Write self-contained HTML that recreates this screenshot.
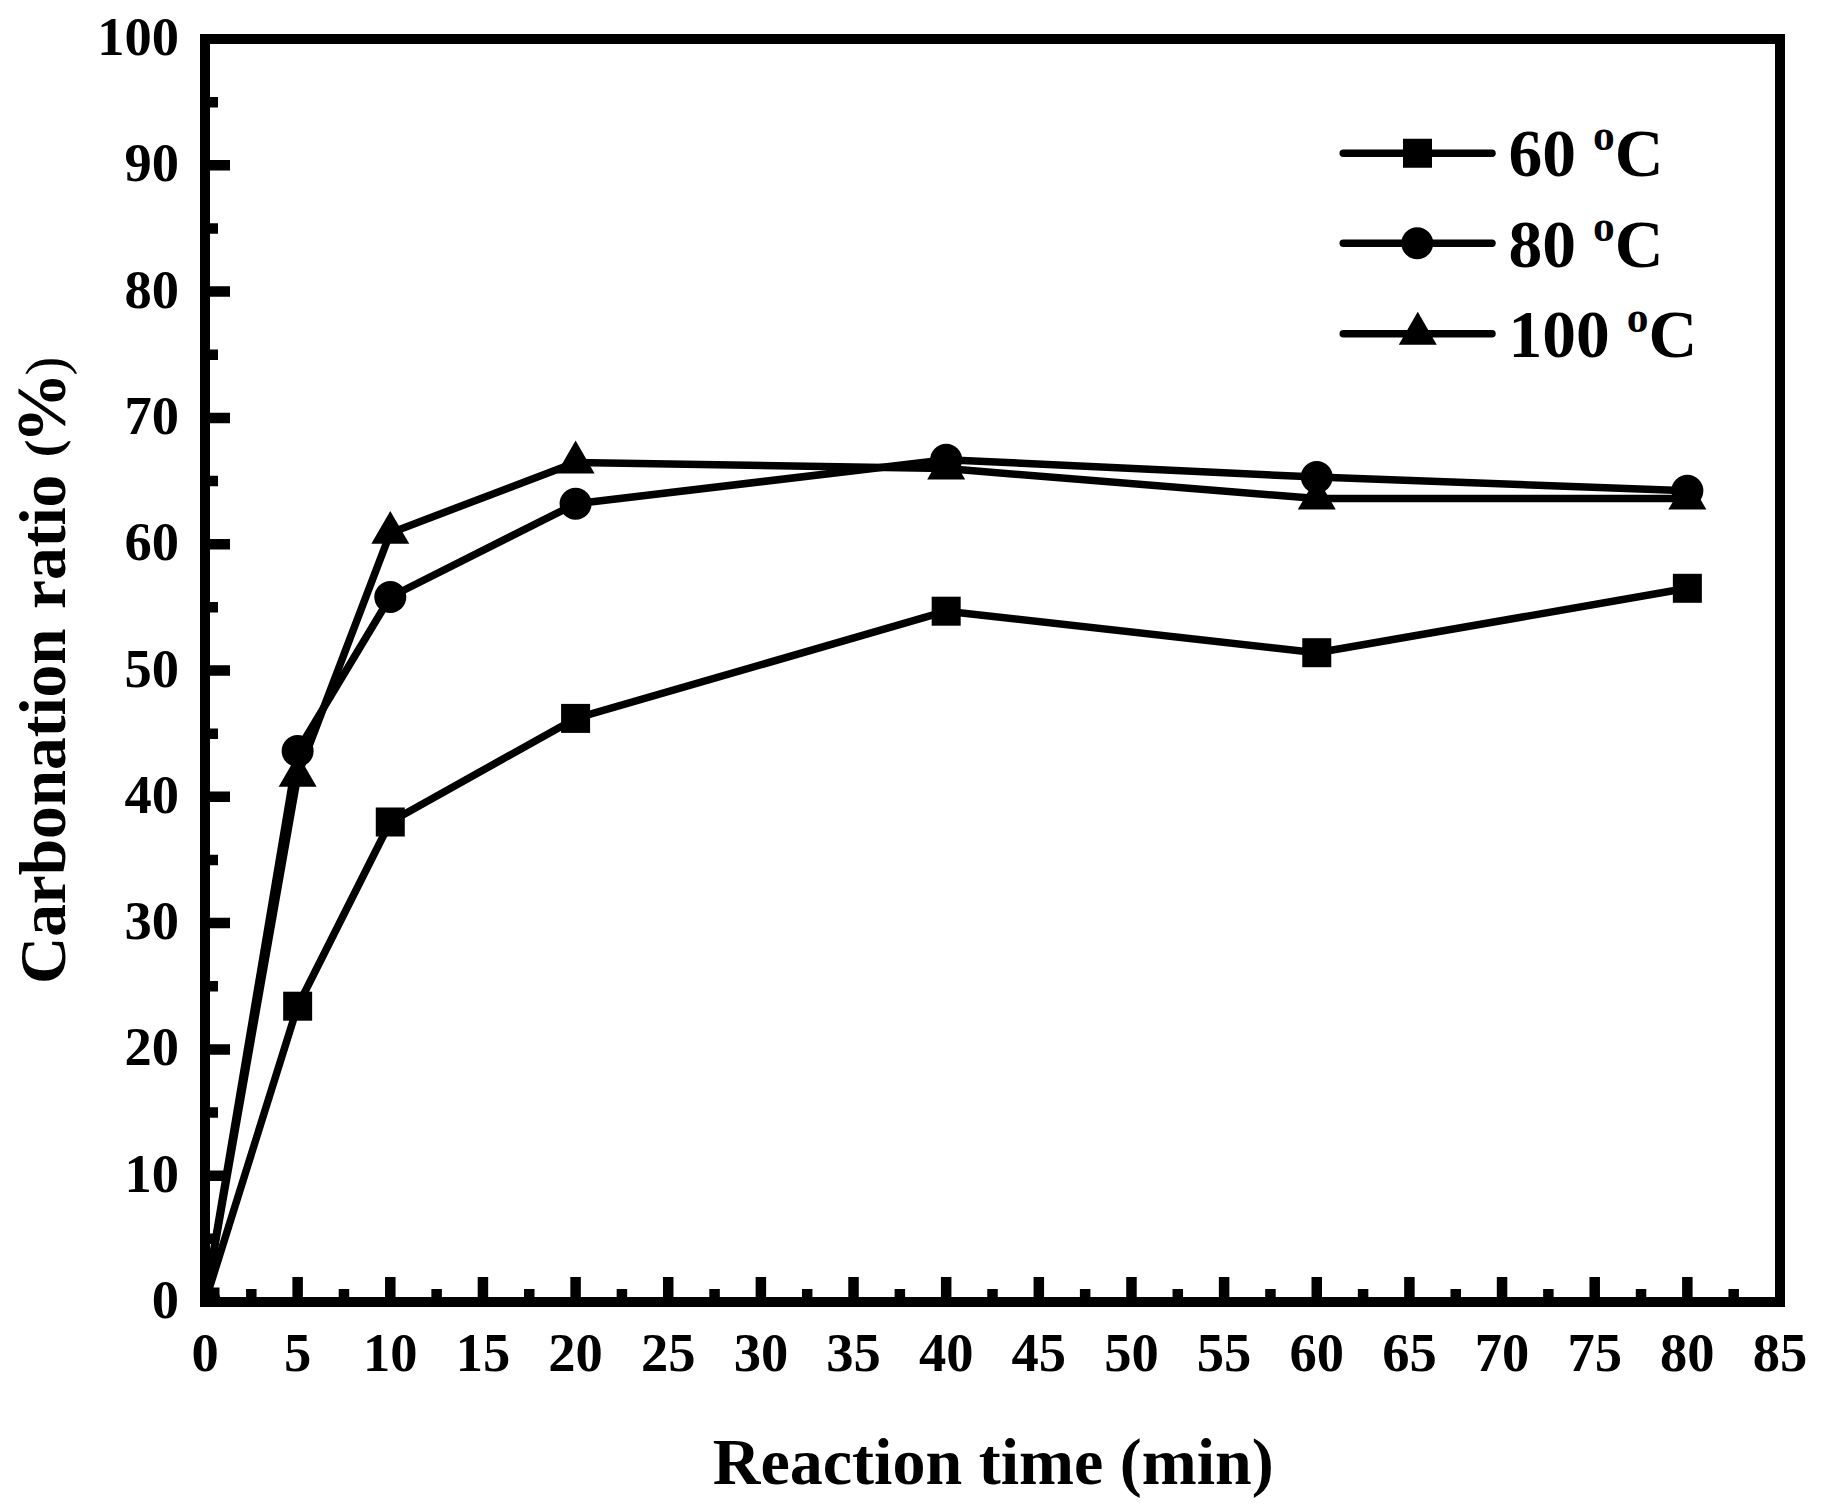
<!DOCTYPE html>
<html lang="en"><head><meta charset="utf-8"><title>Carbonation ratio vs reaction time</title>
<style>html,body{margin:0;padding:0;background:#fff;}body{width:1824px;height:1510px;overflow:hidden;}svg{display:block;}text{font-family:"Liberation Serif","Times New Roman",serif;font-weight:bold;fill:#000;}</style></head><body>
<svg width="1824" height="1510" viewBox="0 0 1824 1510">
<rect width="1824" height="1510" fill="#fff"/>
<rect x="205.0" y="39.0" width="1575.0" height="1263.0" fill="none" stroke="#000" stroke-width="10"/>
<path d="M251.32 1298.00V1289.00M297.65 1298.00V1277.00M343.97 1298.00V1289.00M390.29 1298.00V1277.00M436.62 1298.00V1289.00M482.94 1298.00V1277.00M529.26 1298.00V1289.00M575.59 1298.00V1277.00M621.91 1298.00V1289.00M668.23 1298.00V1277.00M714.56 1298.00V1289.00M760.88 1298.00V1277.00M807.21 1298.00V1289.00M853.53 1298.00V1277.00M899.85 1298.00V1289.00M946.18 1298.00V1277.00M992.50 1298.00V1289.00M1038.82 1298.00V1277.00M1085.15 1298.00V1289.00M1131.47 1298.00V1277.00M1177.79 1298.00V1289.00M1224.12 1298.00V1277.00M1270.44 1298.00V1289.00M1316.76 1298.00V1277.00M1363.09 1298.00V1289.00M1409.41 1298.00V1277.00M1455.73 1298.00V1289.00M1502.06 1298.00V1277.00M1548.38 1298.00V1289.00M1594.70 1298.00V1277.00M1641.03 1298.00V1289.00M1687.35 1298.00V1277.00M1733.68 1298.00V1289.00M209.00 1238.85H218.00M209.00 1175.70H230.00M209.00 1112.55H218.00M209.00 1049.40H230.00M209.00 986.25H218.00M209.00 923.10H230.00M209.00 859.95H218.00M209.00 796.80H230.00M209.00 733.65H218.00M209.00 670.50H230.00M209.00 607.35H218.00M209.00 544.20H230.00M209.00 481.05H218.00M209.00 417.90H230.00M209.00 354.75H218.00M209.00 291.60H230.00M209.00 228.45H218.00M209.00 165.30H230.00M209.00 102.15H218.00" stroke="#000" stroke-width="10.5" fill="none"/>
<g font-size="54.5" text-anchor="middle">
<text x="205.00" y="1370.75">0</text>
<text x="297.65" y="1370.75">5</text>
<text x="390.29" y="1370.75">10</text>
<text x="482.94" y="1370.75">15</text>
<text x="575.59" y="1370.75">20</text>
<text x="668.23" y="1370.75">25</text>
<text x="760.88" y="1370.75">30</text>
<text x="853.53" y="1370.75">35</text>
<text x="946.18" y="1370.75">40</text>
<text x="1038.82" y="1370.75">45</text>
<text x="1131.47" y="1370.75">50</text>
<text x="1224.12" y="1370.75">55</text>
<text x="1316.76" y="1370.75">60</text>
<text x="1409.41" y="1370.75">65</text>
<text x="1502.06" y="1370.75">70</text>
<text x="1594.70" y="1370.75">75</text>
<text x="1687.35" y="1370.75">80</text>
<text x="1780.00" y="1370.75">85</text>
</g>
<g font-size="54.5" text-anchor="end">
<text x="179" y="1318.00">0</text>
<text x="179" y="1191.70">10</text>
<text x="179" y="1065.40">20</text>
<text x="179" y="939.10">30</text>
<text x="179" y="812.80">40</text>
<text x="179" y="686.50">50</text>
<text x="179" y="560.20">60</text>
<text x="179" y="433.90">70</text>
<text x="179" y="307.60">80</text>
<text x="179" y="181.30">90</text>
<text x="179" y="55.00">100</text>
</g>
<text x="993.3" y="1483.7" font-size="66" text-anchor="middle" textLength="561" lengthAdjust="spacingAndGlyphs">Reaction time (min)</text>
<g>
<text transform="translate(65.1 984.0) rotate(-90)" font-size="65" textLength="355.57" lengthAdjust="spacingAndGlyphs">Carbonation</text>
<text transform="translate(65.1 609.0) rotate(-90)" font-size="65" textLength="134.19" lengthAdjust="spacingAndGlyphs">ratio</text>
<text transform="translate(59.7 457.3) rotate(-90)" font-size="51" textLength="17.78" lengthAdjust="spacingAndGlyphs">(</text>
<text transform="translate(65.1 443.3) rotate(-90)" font-size="70.5" textLength="71.01" lengthAdjust="spacingAndGlyphs">%</text>
<text transform="translate(64.7 375.6) rotate(-90)" font-size="56" style="font-weight:normal" textLength="18.8" lengthAdjust="spacingAndGlyphs">)</text>
</g>
<g fill="none" stroke="#000" stroke-width="7.5" stroke-linejoin="round" stroke-linecap="round">
<polyline points="205.00,1302.00 297.65,1006.20 390.29,822.00 575.59,718.40 946.18,611.20 1316.76,652.70 1687.35,588.30"/>
<polyline points="205.00,1302.00 297.65,751.00 390.29,597.00 575.59,503.80 946.18,459.70 1316.76,477.10 1687.35,490.80"/>
<polyline points="205.00,1302.00 297.65,775.80 390.29,532.90 575.59,462.50 946.18,468.60 1316.76,498.60 1687.35,498.60"/>
</g>
<clipPath id="pc"><rect x="210" y="44" width="1564.75" height="1253"/></clipPath>
<g fill="#000" clip-path="url(#pc)"><rect x="190.50" y="1287.50" width="29" height="29"/><circle cx="205.00" cy="1302.00" r="16.0"/><polygon points="205.00,1280.06 186.00,1312.97 224.00,1312.97"/></g>
<g fill="#000">
<rect x="283.15" y="991.70" width="29" height="29"/>
<rect x="375.79" y="807.50" width="29" height="29"/>
<rect x="561.09" y="703.90" width="29" height="29"/>
<rect x="931.68" y="596.70" width="29" height="29"/>
<rect x="1302.26" y="638.20" width="29" height="29"/>
<rect x="1672.85" y="573.80" width="29" height="29"/>
<circle cx="297.65" cy="751.00" r="16.0"/>
<circle cx="390.29" cy="597.00" r="16.0"/>
<circle cx="575.59" cy="503.80" r="16.0"/>
<circle cx="946.18" cy="459.70" r="16.0"/>
<circle cx="1316.76" cy="477.10" r="16.0"/>
<circle cx="1687.35" cy="490.80" r="16.0"/>
<polygon points="297.65,753.86 278.65,786.77 316.65,786.77"/>
<polygon points="390.29,510.96 371.29,543.87 409.29,543.87"/>
<polygon points="575.59,440.56 556.59,473.47 594.59,473.47"/>
<polygon points="946.18,446.66 927.18,479.57 965.18,479.57"/>
<polygon points="1316.76,476.66 1297.76,509.57 1335.76,509.57"/>
<polygon points="1687.35,476.66 1668.35,509.57 1706.35,509.57"/>
</g>
<g stroke="#000" stroke-width="7.5" stroke-linecap="round">
<line x1="1343.25" y1="153.25" x2="1492" y2="153.25"/>
<line x1="1343.25" y1="243.25" x2="1492" y2="243.25"/>
<line x1="1343.25" y1="333.75" x2="1492" y2="333.75"/>
</g>
<g fill="#000">
<rect x="1403.00" y="138.75" width="29" height="29"/>
<circle cx="1417.25" cy="243.25" r="16.0"/>
<polygon points="1417.75,311.81 1398.75,344.72 1436.75,344.72"/>
</g>
<text x="1508.5" y="175.90" font-size="67.5" xml:space="preserve">60 <tspan font-size="43.5" dy="-25.5">o</tspan><tspan dy="25.5">C</tspan></text>
<text x="1508.5" y="266.50" font-size="67.5" xml:space="preserve">80 <tspan font-size="43.5" dy="-25.5">o</tspan><tspan dy="25.5">C</tspan></text>
<text x="1508.5" y="357.20" font-size="67.5" xml:space="preserve">100 <tspan font-size="43.5" dy="-25.5">o</tspan><tspan dy="25.5">C</tspan></text>
</svg></body></html>
